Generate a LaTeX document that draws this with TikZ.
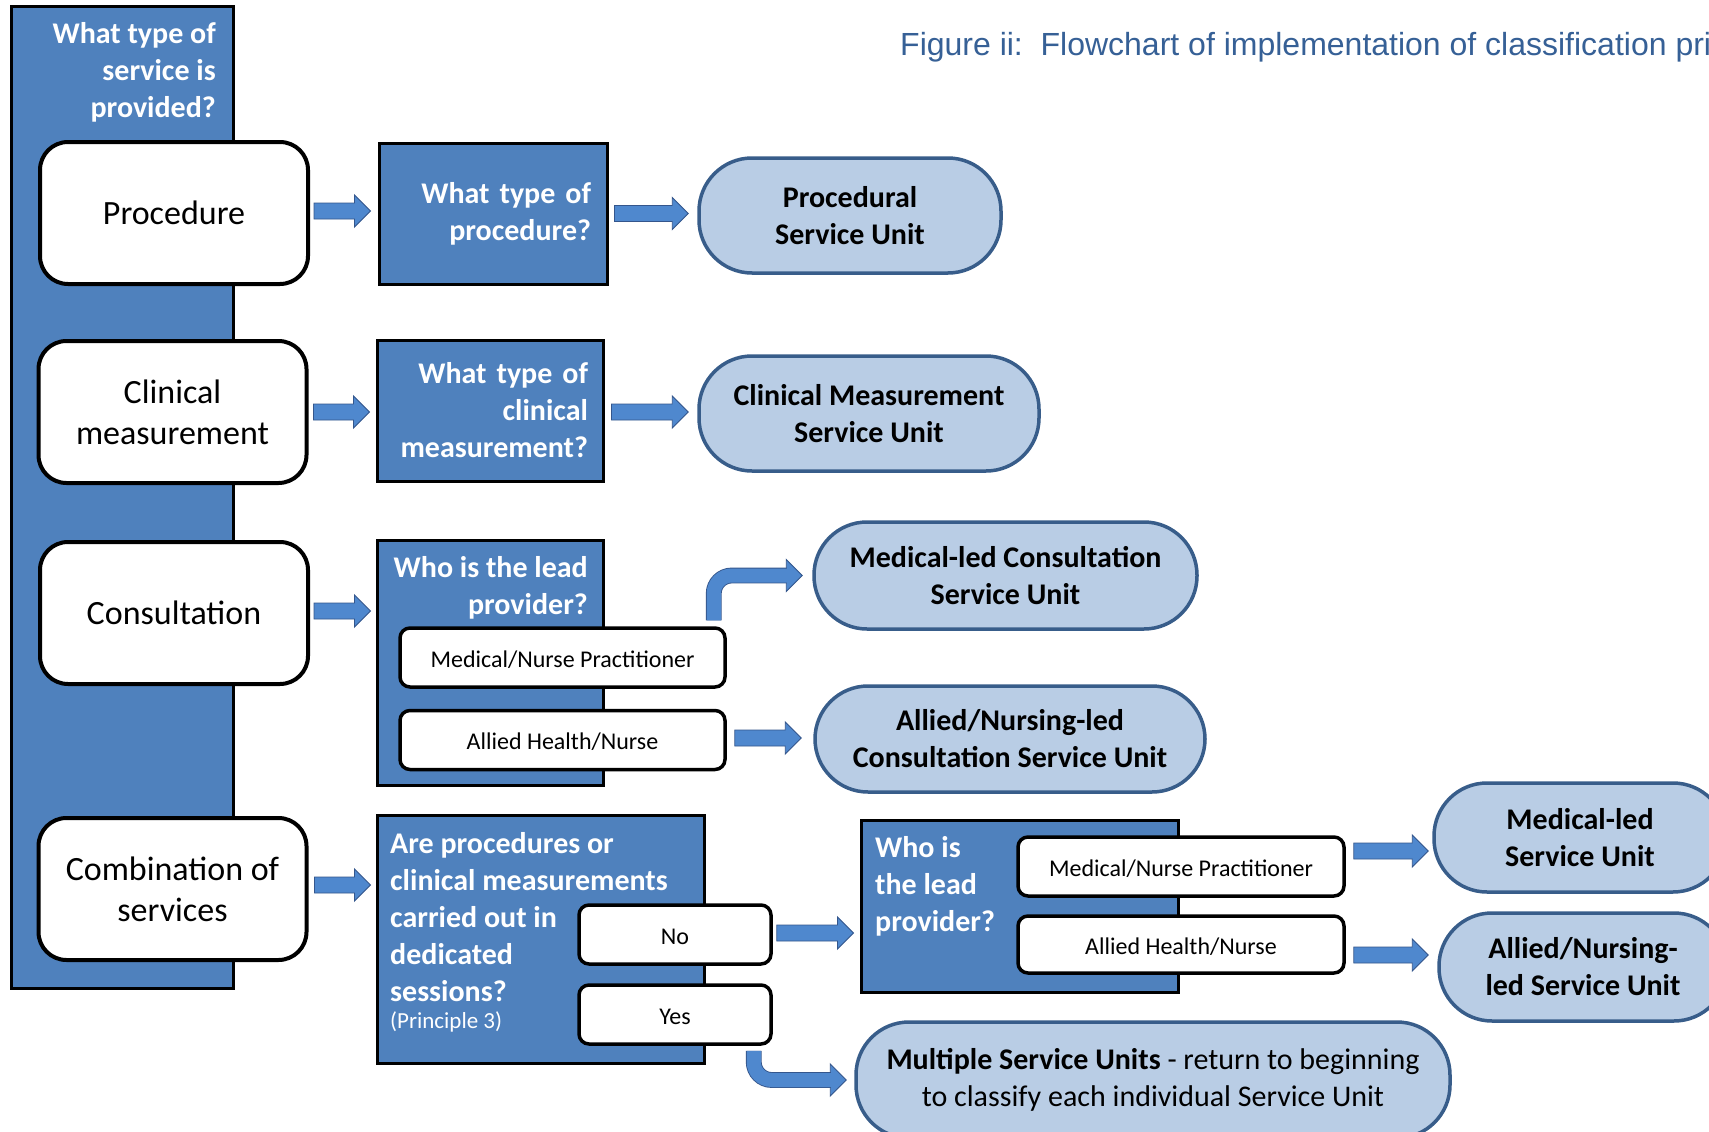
\documentclass[tikz,border=0pt]{standalone}
\usepackage{fontspec}
\setmainfont{Carlito}
\newfontfamily\titlefont{Liberation Sans}
\usetikzlibrary{calc, positioning}

\definecolor{qblue}{RGB}{79,129,189}
\definecolor{sufill}{RGB}{185,205,229}
\definecolor{suline}{RGB}{56,93,138}
\definecolor{arrfill}{RGB}{79,136,206}
\definecolor{arrline}{RGB}{52,86,140}
\definecolor{titleblue}{RGB}{54,96,150}

% block arrow pieces
\newcommand{\fathead}[1]{\draw[head] #1 -- ++(-16,-16) -- ++(0,32) -- cycle;}
\newcommand{\fatarrow}[2]{%
  \draw[head] let \p1=#1, \p2=#2 in (\x1,\y1+8pt) -- (\x2-16pt,\y1+8pt) -- (\x2-16pt,\y1+16pt) -- (\x2,\y1)
    -- (\x2-16pt,\y1-16pt) -- (\x2-16pt,\y1-8pt) -- (\x1,\y1-8pt) -- cycle;}

\begin{document}
\begin{tikzpicture}[
x=1pt, y=-1pt,
every node/.style={inner sep=0pt},
choice/.style={rectangle, draw=black, line width=4pt, rounded corners=28pt, fill=white, minimum width=268pt, minimum height=142pt, align=center, font=\fontsize{34}{41}\selectfont},
question/.style={rectangle, draw=black, line width=3pt, fill=qblue, text=white, font=\bfseries\fontsize{30}{37}\selectfont},
qtext/.style={text=white, font=\bfseries\fontsize{30}{37}\selectfont},
option/.style={rectangle, draw=black, line width=3.5pt, rounded corners=10pt, fill=white, minimum height=59pt, text height=22pt, text depth=3pt, font=\fontsize{24}{29}\selectfont},
unit/.style={rectangle, draw=suline, line width=3.5pt, rounded corners=53pt, fill=sufill, align=center, font=\bfseries\fontsize{30}{37}\selectfont},
shaft/.style={draw=arrline, line width=0.9pt, double=arrfill, double distance=14pt},
head/.style={draw=arrline, line width=0.9pt, fill=arrfill, line join=miter}
]
\useasboundingbox (0,0) rectangle (1709,1132);
\fill[white] (0,0) rectangle (1709,1132);
\clip (0,0) rectangle (1709,1132);

% title
\node[anchor=west, text=titleblue, font=\titlefont\fontsize{32}{38}\selectfont] (title) at (900,47) {Figure ii:\ \ Flowchart of implementation of classification pri};

% left column
\node[question, minimum width=222pt, minimum height=981pt] (col) at (122,497.5) {};
\node[qtext, align=right, anchor=north east] (coltext) at (216,22) {What type of\\service is\\provided?};

% kinds of service
\node[choice] (proc) at (174,213) {Procedure};
\node[choice] (clin) at (172.5,412) {Clinical\\measurement};
\node[choice] (cons) at (174,613) {Consultation};
\node[choice] (comb) at (172.5,889) {Combination of\\services};

% questions
\node[question, minimum width=228pt, minimum height=141pt, text width=196pt, align=right] (qproc) at (493,213.5) {What type of\\procedure?};
\node[question, minimum width=226pt, minimum height=141pt, text width=196pt, align=right] (qclin) at (490,410.5) {What type of\\clinical\\measurement?};
\node[question, minimum width=226pt, minimum height=245pt] (qcons) at (490,662.5) {};
\node[qtext, align=right, anchor=north east] (qconstext) at (588,556) {Who is the lead\\provider?};
\node[question, minimum width=327pt, minimum height=248pt] (qcomb) at (540.5,939) {};
\node[qtext, align=left, anchor=north west] (qcombtext) at (390,832) {Are procedures or\\clinical measurements\\carried out in\\dedicated\\sessions?};
\node[anchor=west, text=white, font=\fontsize{23}{28}\selectfont] (principle) at (390,1022) {(Principle 3)};
\node[question, minimum width=317pt, minimum height=172pt] (qlead) at (1019.5,906) {};
\node[qtext, align=left, anchor=north west] (qleadtext) at (875,836) {Who is\\the lead\\provider?};

% answers
\node[option, minimum width=325pt] (cmnp) at (562.5,657.5) {Medical/Nurse Practitioner};
\node[option, minimum width=325pt] (cahn) at (562.5,740) {Allied Health/Nurse};
\node[option, minimum width=192pt] (no) at (675,934.5) {No};
\node[option, minimum width=192pt] (yes) at (675,1014.5) {Yes};
\node[option, minimum width=326pt] (lmnp) at (1181,866.5) {Medical/Nurse Practitioner};
\node[option, minimum width=326pt, minimum height=57pt] (lahn) at (1181,944.5) {Allied Health/Nurse};

% service units
\node[unit, minimum width=302pt, minimum height=115pt] (suproc) at (850,215.5) {Procedural\\Service Unit};
\node[unit, minimum width=340pt, minimum height=115pt] (suclin) at (869,413.5) {Clinical Measurement\\Service Unit};
\node[unit, minimum width=383pt, minimum height=107pt] (sumcons) at (1005.5,575.5) {Medical-led Consultation\\Service Unit};
\node[unit, minimum width=390pt, minimum height=106pt] (suacons) at (1010,739) {Allied/Nursing-led\\Consultation Service Unit};
\node[unit, minimum width=292pt, minimum height=109pt] (sumed) at (1580,837.5) {Medical-led\\Service Unit};
\node[unit, minimum width=288pt, minimum height=108pt] (suall) at (1583,967) {Allied/Nursing-\\led Service Unit};
\node[unit, minimum width=594pt, minimum height=116pt, font=\fontsize{30}{37}\selectfont] (sumulti) at (1153,1080) {\textbf{Multiple Service Units} - return to beginning\\to classify each individual Service Unit};

% arrows
\fatarrow{([xshift=4pt,yshift=2pt]proc.east)}{([xshift=-7pt]qproc.west)}
\fatarrow{([xshift=6pt]qproc.east)}{([xshift=-9pt]suproc.west)}
\fatarrow{([xshift=5pt]clin.east)}{([xshift=-6pt]qclin.west)}
\fatarrow{([xshift=7pt,yshift=-1.5pt]qclin.east)}{([xshift=-9pt]suclin.west)}
\fatarrow{([xshift=4pt,yshift=2pt]cons.east)}{([xshift=-5pt]qcons.west)}
\fatarrow{([xshift=8pt,yshift=2pt]cahn.east)}{([xshift=-12pt]suacons.west)}
\fatarrow{([xshift=6pt,yshift=4pt]comb.east)}{([xshift=-5pt]qcomb.west)}
\fatarrow{([xshift=4pt,yshift=1.5pt]no.east)}{([xshift=-6pt]qlead.west)}
\fatarrow{([xshift=8pt,yshift=15.5pt]lmnp.east)}{([xshift=-4pt]sumed.west)}
\fatarrow{([xshift=8pt,yshift=-10.5pt]lahn.east)}{([xshift=-9pt]suall.west)}

% bent arrows
\coordinate (b1) at ([xshift=-13pt,yshift=6pt]cmnp.north east);
\fathead{([xshift=-10pt]sumcons.west)}
\draw[shaft, rounded corners=18pt] (b1) |- ([xshift=-25.4pt]sumcons.west);
\coordinate (b2) at ([xshift=-19pt,yshift=-5pt]yes.south east);
\fathead{([xshift=-8pt]sumulti.west)}
\draw[shaft, rounded corners=18pt] (b2) |- ([xshift=-23.4pt]sumulti.west);
\end{tikzpicture}
\end{document}
